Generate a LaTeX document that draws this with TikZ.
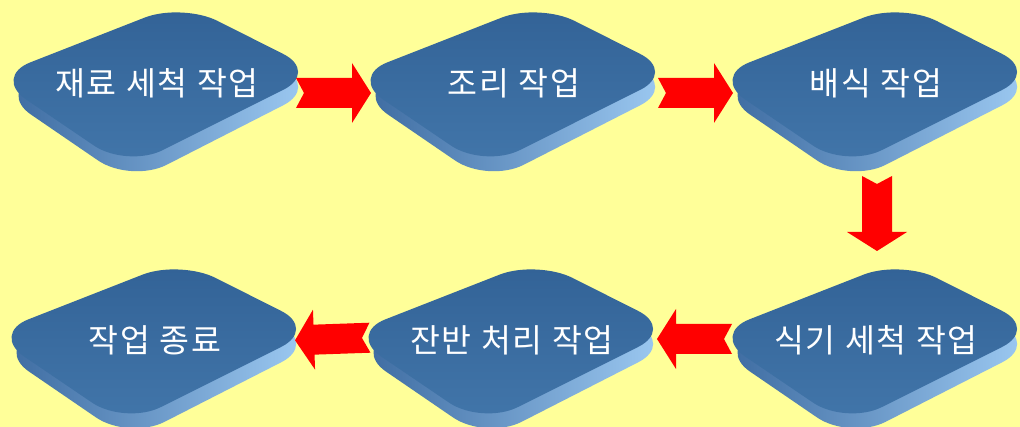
\documentclass[tikz,border=0pt]{standalone}
\usepackage{fontspec}
\newfontfamily\kr[LetterSpace=6]{Noto Sans CJK KR}
\definecolor{bgy}{RGB}{255,255,153}
\definecolor{plateA}{RGB}{50,98,150}
\definecolor{plateB}{RGB}{66,118,170}
\definecolor{sideL}{RGB}{58,104,158}
\definecolor{sideM}{RGB}{75,130,185}
\definecolor{sideR}{RGB}{160,205,245}
\definecolor{arr}{RGB}{255,0,0}
\newcommand{\plate}[4]{% name, x, y, text
  \begin{scope}[shift={(#2,#3)}]
    \shade[left color=sideL, middle color=sideM, right color=sideR, rounded corners=40pt]
      (28,-65) -- (162,4) -- (-26,100) -- (-159,9) -- cycle;
    \shade[top color=plateA, bottom color=plateB, rounded corners=40pt]
      (25,-80) -- (162,-11) -- (-30,85) -- (-164,-6) -- cycle;
  \end{scope}
  \node[lbl] (#1) at (#2,#3) {#4};
}
\newcommand{\blockarrow}[4]{% x, y, rotation, name
  \begin{scope}[shift={(#1,#2)}, rotate=#3]
    \fill[arr] (-37,-15) -- (-29,0) -- (-37,15) -- (19,15) -- (19,30) -- (38,0) -- (19,-30) -- (19,-15) -- cycle;
    \coordinate (#4) at (0,0);
  \end{scope}
}
\tikzset{lbl/.style={text=white, font=\kr\fontsize{32.5}{36}\selectfont, inner sep=0pt}}
\begin{document}
\begin{tikzpicture}[x=1pt,y=-1pt]
\fill[bgy] (0,0) rectangle (1020,427);
\useasboundingbox (0,0) rectangle (1020,427);
\plate{n1}{157}{83}{재료 세척 작업}
\plate{n2}{514}{83}{조리 작업}
\plate{n3}{876}{83}{배식 작업}
\plate{n4}{876}{340}{식기 세척 작업}
\plate{n5}{512}{340}{잔반 처리 작업}
\plate{n6}{155}{340}{작업 종료}
\blockarrow{333}{93}{0}{a1}
\blockarrow{695}{93}{0}{a2}
\blockarrow{877}{213}{-90}{a3}
\blockarrow{333}{339}{182}{a4}
\blockarrow{695}{339}{180}{a5}
\end{tikzpicture}
\end{document}
